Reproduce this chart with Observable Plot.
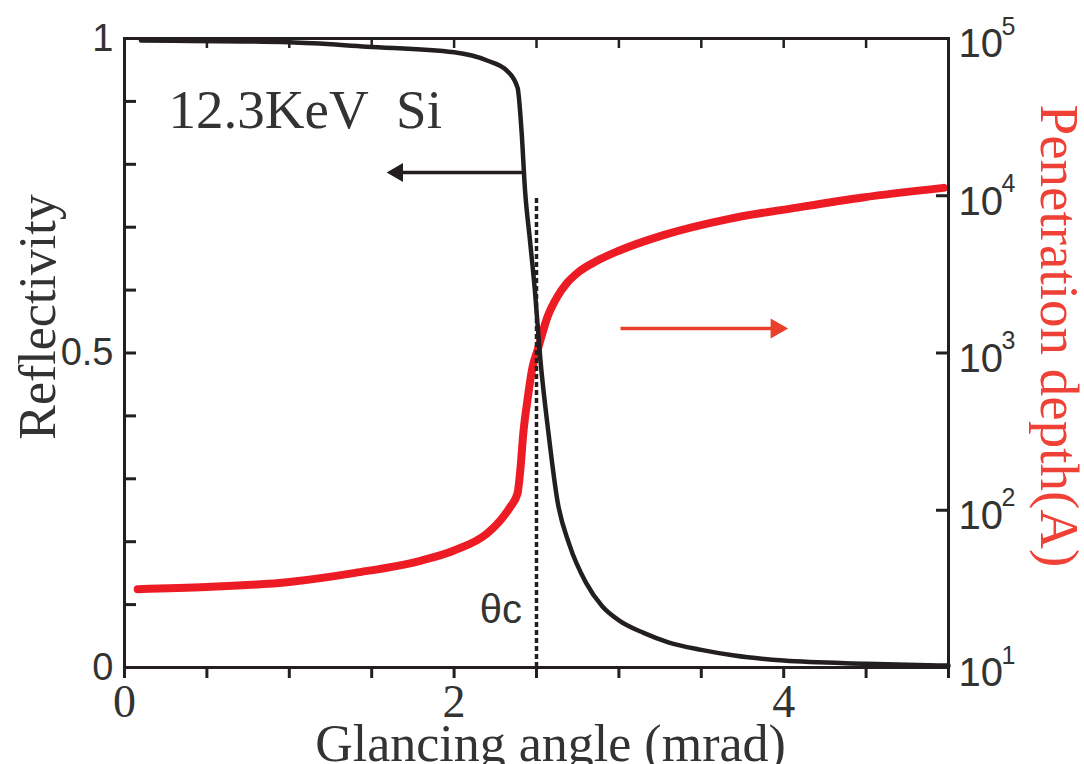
<!DOCTYPE html>
<html><head><meta charset="utf-8">
<script src="https://cdn.jsdelivr.net/npm/d3@7"></script>
<script src="https://cdn.jsdelivr.net/npm/@observablehq/plot@0.6"></script>
<style>
body{margin:0;background:#fff;}
#wrap{position:relative;width:1084px;height:764px;overflow:hidden;background:#fff;}
#wrap svg{position:absolute;left:0;top:0;}
</style></head><body><div id="wrap"></div>
<script>
// Reflectivity curve (black, left axis)
const reflAngle = [0.1, 1.0, 1.47, 2.0, 2.2, 2.32, 2.385, 2.41, 2.43, 2.46, 2.49, 2.524, 2.573, 2.627, 2.70, 2.80, 2.90, 3.0, 3.15, 3.3, 3.5, 3.7, 4.0, 4.5, 5.0];
const reflectivity = [0.997, 0.994, 0.987, 0.978, 0.965, 0.949, 0.922, 0.85, 0.76, 0.68, 0.60, 0.488, 0.372, 0.265, 0.195, 0.135, 0.097, 0.075, 0.055, 0.040, 0.028, 0.019, 0.011, 0.006, 0.003];
// Penetration depth curve (red, right log axis, Angstrom)
const depthAngle = [0.08, 0.5, 1.0, 1.4, 1.8, 2.0, 2.2, 2.28, 2.34, 2.385, 2.403, 2.42, 2.445, 2.476, 2.506, 2.567, 2.627, 2.68, 2.75, 2.87, 3.0, 3.27, 3.677, 4.08, 4.48, 4.97];
const depth = [31.5, 32.5, 35, 40, 47.9, 55.5, 71.1, 86, 104.7, 128, 186, 309, 501, 813, 1038, 1700, 2290, 2750, 3240, 3870, 4470, 5620, 7160, 8410, 9750, 11220];

const xTicks = [0, 0.5, 1, 1.5, 2, 2.5, 3, 3.5, 4, 4.5, 5];
const xTickLabels = ["0", "", "", "", "2", "", "", "", "4", "", ""];
const topTicks = [0.5, 1, 1.5, 2, 2.5, 3, 3.5, 4, 4.5];
const leftTicks = [0.1, 0.2, 0.3, 0.4, 0.5, 0.6, 0.7, 0.8, 0.9];
const leftTickLabels = [0, 0.5, 1];
const rightTicks = [10, 100, 1000, 10000, 100000];

const thetaC = [2.5];
const thetaCTop = 0.75;
const blackArrowX = [2.42, 1.657];
const blackArrowY = 0.787;
const redArrowX = [3.01, 3.956];
const redArrowDepth = 1432;

const W = 1084, H = 764;
const mL = 124, mR = 136, mT = 38, mB = 97;
const fw = W - mL - mR, fh = H - mT - mB;
const ink = "#231f20";
const red = "#ed1c24";

const reflData = reflAngle.map((x, i) => ({x, y: reflectivity[i]}));
const depthData = depthAngle.map((x, i) => ({x, y: depth[i]}));

// Bottom plot: penetration depth (log right axis)
const plotB = Plot.plot({
  width: W, height: H,
  marginLeft: mL, marginRight: mR, marginTop: mT, marginBottom: mB,
  x: {domain: [0, 5], axis: null},
  y: {type: "log", domain: [10, 100000]},
  style: {background: "white"},
  marks: [
    Plot.tickY(rightTicks, {y: d => d, insetLeft: fw - 12, stroke: ink, strokeWidth: 3}),
    Plot.axisY(rightTicks, {anchor: "right", tickSize: 0, tickPadding: 10, tickFormat: () => "10",
      fontSize: 40, fontFamily: "Liberation Sans", fill: "#333", dy: 6, label: null}),
    Plot.text(rightTicks, {y: d => d, frameAnchor: "right", text: d => String(Math.round(Math.log10(d))),
      textAnchor: "start", dx: 53, dy: -12, fontSize: 25, fontFamily: "Liberation Sans", fill: "#333"}),
    Plot.line(depthData, {x: "x", y: "y", stroke: red, strokeWidth: 8, curve: "monotone-x"}),
    Plot.link([0], {x1: () => redArrowX[0], x2: () => redArrowX[1], y1: () => redArrowDepth, y2: () => redArrowDepth,
      stroke: "#e8402a", strokeWidth: 3.5}),
    Plot.dot([0], {x: () => redArrowX[1], y: () => redArrowDepth, symbol: "triangle", r: 7.5, rotate: 90,
      fill: "#e8402a", stroke: null}),
    Plot.text(["Penetration depth(A)"], {text: d => d, frameAnchor: "right", rotate: 90, dx: 92, dy: -17,
      textAnchor: "middle", lineAnchor: "bottom", fontSize: 55, fontFamily: "Liberation Serif", fill: "#ef4136"})
  ]
});

// Top plot: reflectivity (linear left axis), frame, x axis
const plotA = Plot.plot({
  width: W, height: H,
  marginLeft: mL, marginRight: mR, marginTop: mT, marginBottom: mB,
  x: {domain: [0, 5]},
  y: {domain: [0, 1]},
  style: {background: "transparent"},
  marks: [
    Plot.frame({stroke: ink, strokeWidth: 3}),
    Plot.tickY(leftTicks, {y: d => d, insetRight: fw - 12, stroke: ink, strokeWidth: 3}),
    Plot.tickX(topTicks, {x: d => d, insetBottom: fh - 10, stroke: ink, strokeWidth: 2.5}),
    Plot.axisX(xTicks, {tickSize: 11, tickPadding: 6, strokeWidth: 3, stroke: ink,
      tickFormat: d => xTickLabels[xTicks.indexOf(d)],
      fontSize: 46, fontFamily: "Liberation Serif", fill: "#333", label: null}),
    Plot.axisY(leftTickLabels, {tickSize: 0, tickPadding: 11, tickFormat: d => String(d),
      fontSize: 38, fontFamily: "Liberation Sans", fill: "#333", label: null}),
    Plot.ruleX(thetaC, {x: d => d, y1: 0, y2: thetaCTop, stroke: ink, strokeWidth: 3.5, strokeDasharray: "5,3"}),
    Plot.line(reflData, {x: "x", y: "y", stroke: ink, strokeWidth: 4.5, curve: "monotone-x"}),
    Plot.link([0], {x1: () => blackArrowX[0], x2: () => blackArrowX[1], y1: () => blackArrowY, y2: () => blackArrowY,
      stroke: ink, strokeWidth: 3.5}),
    Plot.dot([0], {x: () => blackArrowX[1], y: () => blackArrowY, symbol: "triangle", r: 7, rotate: -90,
      fill: ink, stroke: null}),
    Plot.text(["12.3KeV\u00a0\u00a0Si"], {text: d => d, x: () => 0.267, y: () => 0.857, textAnchor: "start",
      lineAnchor: "bottom", fontSize: 55, fontFamily: "Liberation Serif", fill: "#333"}),
    Plot.text(["θc"], {text: d => d, x: () => 2.155, y: () => 0.07, textAnchor: "start",
      lineAnchor: "bottom", fontSize: 40, fontFamily: "Liberation Sans", fill: "#333"}),
    Plot.text(["Glancing angle (mrad)"], {text: d => d, frameAnchor: "bottom", dx: 14, dy: 93,
      textAnchor: "middle", lineAnchor: "bottom", fontSize: 52, fontFamily: "Liberation Serif", fill: "#333"}),
    Plot.text(["Reflectivity"], {text: d => d, frameAnchor: "left", rotate: -90, dx: -70, dy: -36,
      textAnchor: "middle", lineAnchor: "bottom", fontSize: 52, fontFamily: "Liberation Serif", fill: "#333"})
  ]
});

const wrap = document.getElementById("wrap");
wrap.appendChild(plotB);
wrap.appendChild(plotA);
</script>
</body></html>
